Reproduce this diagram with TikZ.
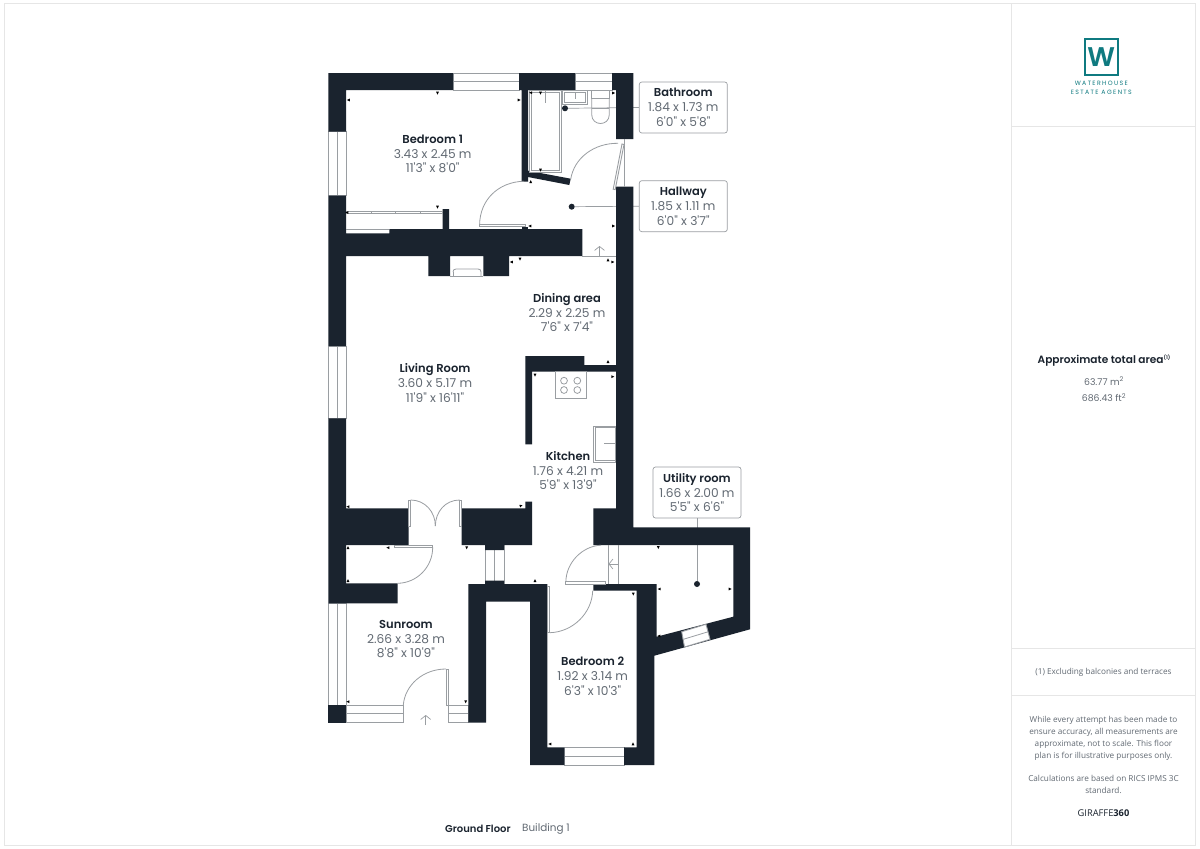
\documentclass[tikz,border=0pt]{standalone}
\usepackage{fontspec}
\usepackage{xcolor}
\usetikzlibrary{arrows.meta}
\setmainfont{Open Sans}
\newfontfamily\roomfont[BoldFont={Poppins SemiBold}]{Poppins}
\newfontfamily\logofont[LetterSpace=22]{Poppins}
\definecolor{wallc}{HTML}{1A232E}
\definecolor{greyc}{HTML}{9A9EA2}
\definecolor{textc}{HTML}{626A73}
\definecolor{linec}{HTML}{E6E6E6}
\definecolor{tealc}{HTML}{0F7A80}
\newcommand{\roomname}[1]{{\color{wallc}\bfseries\fontsize{11.5}{14.5}\selectfont #1}\\[0.6pt]}

\begin{document}
\begin{tikzpicture}[x=1pt,y=-1pt,
wall/.style={fill=wallc,draw=none},
fitting/.style={draw=greyc,line width=0.9pt,fill=white},
thinline/.style={draw=greyc,line width=0.8pt},
leader/.style={draw=greyc,line width=0.7pt},
frame/.style={draw=linec,line width=1pt},
tick/.style={fill=black},
spot/.style={circle,fill=wallc,inner sep=0pt,minimum size=6pt},
room/.style={align=center,text=textc,font=\roomfont\fontsize{12.2}{14.5}\selectfont,inner sep=0pt},
tag/.style={room,draw=greyc,fill=white,rounded corners=2.5pt,line width=0.7pt,minimum width=88pt,minimum height=51pt},
side/.style={align=center,text=textc,font=\fontsize{8.2}{11.9}\selectfont,inner sep=0pt},
entry/.style={draw=greyc,line width=0.7pt,-{Straight Barb[length=4pt,width=10pt]}}]
\useasboundingbox (0,0) rectangle (1200,849);
\fill[white] (0,0) rectangle (1200,849);

\node[room] (bed1) at (432.7,154) {\roomname{Bedroom 1}3.43 x 2.45 m\\11'3" x 8'0"};
\node[room] (living) at (435,383) {\roomname{Living Room}3.60 x 5.17 m\\11'9" x 16'11"};
\node[room] (dining) at (567,312.5) {\roomname{Dining area}2.29 x 2.25 m\\7'6" x 7'4"};
\node[room] (kitchen) at (568,470.5) {\roomname{Kitchen}1.76 x 4.21 m\\5'9" x 13'9"};
\node[room] (sun) at (406,639) {\roomname{Sunroom}2.66 x 3.28 m\\8'8" x 10'9"};
\node[room] (bed2) at (592.7,676) {\roomname{Bedroom 2}1.92 x 3.14 m\\6'3" x 10'3"};
\node[tag] (bathtag) at (683.3,107.5) {\roomname{Bathroom}1.84 x 1.73 m\\6'0" x 5'8"};
\node[tag] (halltag) at (683.3,206.2) {\roomname{Hallway}1.85 x 1.11 m\\6'0" x 3'7"};
\node[tag] (utiltag) at (697,492.5) {\roomname{Utility room}1.66 x 2.00 m\\5'5" x 6'6"};
\node[spot] (bathspot) at (565,108.3) {};
\node[spot] (hallspot) at (571.7,206.7) {};
\node[spot] (utilspot) at (697,584) {};
\draw[leader] (bathspot) -- (bathtag.west);
\draw[leader] (hallspot) -- (halltag.west);
\draw[leader] (utilspot) -- (utiltag.south);

\foreach \x/\y/\X/\Y in %
{453/73/519/90,575/73/612/90,346/705/403/722.7,448.3/705/468.3/722.7,564.3/747.3/624/765} {
   \draw[fitting] (\x,\y) rectangle (\X,\Y);
   \draw[thinline] (\x,\y/2+\Y/2) -- (\X,\y/2+\Y/2);
}
\foreach \x/\y/\X/\Y in %
{328.3/131.7/346/195.7,328.3/346/346/418.3,328.3/603.3/346/705,485/545/504/584} {
   \draw[fitting] (\x,\y) rectangle (\X,\Y);
   \draw[thinline] (\x/2+\X/2,\y) -- (\x/2+\X/2,\Y);
}

\fill[wall] (328.3,73) -- (453,73) -- (453,90) -- (346,90) -- (346,131.7) -- (328.3,131.7) -- cycle;
\fill[wall] (519,73) -- (575,73) -- (575,90) -- (528,90) -- (528,170.7) -- (570.7,178.7) -- (569.3,185) -- (528,177) -- (528,181.7) -- (521.5,181.7) -- (521.5,90) -- (519,90) -- cycle;
\fill[wall] (612,73) -- (633.3,73) -- (633.3,139) -- (616,139) -- (616,90) -- (612,90) -- cycle;
\fill[wall] (328.3,195.7) -- (346,195.7) -- (346,233.3) -- (389.3,233.3) -- (389.3,229) -- (442.7,229) -- (442.7,209) -- (449,209) -- (449,229) -- (582.3,229) -- (582.3,256) -- (509,256) -- (509,276) -- (483.4,276) -- (483.4,256) -- (450,256) -- (450,276) -- (428.3,276) -- (428.3,256) -- (346,256) -- (346,346) -- (328.3,346) -- cycle;
\fill[wall] (328.3,418.3) -- (346,418.3) -- (346,508.3) -- (408.7,508.3) -- (408.7,545) -- (346,545) -- (346,583.3) -- (397.7,583.3) -- (397.7,603.3) -- (328.3,603.3) -- cycle;
\fill[wall] (461.7,508.3) -- (525.3,508.3) -- (525.3,501.7) -- (532,501.7) -- (532,545) -- (504,545) -- (504,550) -- (485,550) -- (485,545) -- (461.7,545) -- cycle;
\fill[wall] (525.3,356) -- (584.3,356) -- (584.3,365) -- (616,365) -- (616,371.7) -- (532,371.7) -- (532,444.3) -- (525.3,444.3) -- cycle;
\fill[wall] (616,186.7) -- (633.3,186.7) -- (633.3,527.3) -- (750,527.3) -- (750,629.3) -- (654.3,655.7) -- (654.3,765) -- (624,765) -- (624,747.3) -- (636.7,747.3) -- (636.7,590.7) -- (593.3,590.7) -- (593.3,584) -- (656.7,584) -- (656.7,636.7) -- (733.3,616.7) -- (733.3,545) -- (593.3,545) -- (593.3,508.3) -- (616,508.3) -- cycle;
\fill[wall] (485,580.7) -- (504,580.7) -- (504,584) -- (547.3,584) -- (547.3,747.3) -- (564.3,747.3) -- (564.3,765) -- (530,765) -- (530,601.7) -- (486,601.7) -- (486,722.7) -- (468.3,722.7) -- (468.3,584) -- (485,584) -- cycle;
\fill[wall] (328.3,705) rectangle (346,722.7);

\draw[fitting] (681.7,631.7) -- (706,624.3) -- (710,639.3) -- (684.5,647) -- cycle;
\draw[thinline] (683.3,639.3) -- (708,631.8);
\draw[thinline] (624.8,139) -- (624.8,186.7);
\draw[thinline] (582.3,256) -- (616,256);
\draw[thinline] (608.3,545) -- (608.3,584) (618.3,545) -- (618.3,584);
\draw[thinline] (346,229.6) -- (389.3,229.6);
\fill[white,draw=greyc,line width=0.5pt] (346,211.6) rectangle (442.7,213.4);
\foreach \x in {371,395,420} {
   \draw[thinline] (\x,211.6) -- (\x,213.4);
}

\draw[thinline] (618,143.3) .. controls (594,143) and (574,158) .. (570.7,179.3);
\draw[fitting] (622,144) -- (624,144.5) -- (615.2,189.6) -- (613.2,189.2) -- cycle;
\draw[fitting] (479.3,224.5) rectangle (525,226.7);
\draw[thinline] (479.6,224.5) .. controls (480,200) and (498,182) .. (524,181.2);
\fill[wall] (521.5,226.7) rectangle (528,229);
\draw[fitting] (408.7,500) rectangle (410.7,526);
\draw[fitting] (459.7,500) rectangle (461.7,526);
\draw[thinline] (410.7,500) .. controls (425,500) and (435.5,512) .. (435.3,526);
\draw[thinline] (459.7,500) .. controls (445,500) and (435.5,512) .. (435.3,526);
\draw[fitting] (394,545) rectangle (432.7,547.3);
\draw[thinline] (432.7,547.3) .. controls (432.7,567) and (417,583) .. (397.7,583.3);
\draw[fitting] (565.7,581.7) rectangle (605,584);
\draw[thinline] (565.9,581.7) .. controls (566,563) and (582,546) .. (601,545.2);
\draw[fitting] (547.4,586.7) rectangle (549.8,632.7);
\draw[thinline] (549.8,632.7) .. controls (573,632) and (592,613) .. (592.7,590.7);
\draw[fitting] (446,669) rectangle (448.3,705);
\draw[thinline] (446,669) .. controls (423,669) and (405,685) .. (403.3,705);

\draw[fitting] (529,90.7) rectangle (561.7,172.7);
\draw[thinline] (531,92.7) rectangle (559.7,170.7);
\draw[thinline] (545,91) -- (545,103);
\draw[fitting] (562.7,90.7) rectangle (587.3,104.3);
\draw[thinline] (564.7,92.7) rectangle (585.3,102.3);
\draw[thinline] (575,92.7) -- (575,98.5);
\draw[thinline] (591.7,98.3) -- (591.7,114.5) .. controls (591.7,126.5) and (609.3,126.5) .. (609.3,114.5) -- (609.3,98.3);
\draw[thinline] (591.7,90.7) rectangle (609.3,98.3);
\draw[thinline] (591.7,108.3) -- (609.3,108.3);
\draw[thinline] (453,272) .. controls (453,270) and (454,269) .. (456,269) -- (478,269) .. controls (480,269) and (481,270) .. (481,272) -- (481,276);
\draw[thinline] (453,276) -- (453,272) (450,276) -- (483.4,276);
\draw[fitting] (555.7,371.7) rectangle (586,398.3);
\foreach \x/\y in %
{564/380.7,577.3/380.7,564/390,577.3/390} {
   \draw[thinline] (\x,\y) circle (3.4);
}
\draw[fitting] (593.3,426) rectangle (615.3,462);
\draw[thinline] (595,427.7) rectangle (615.3,460.3);
\draw[thinline] (604.3,443.7) -- (615.3,443.7);

\coordinate (hallfoot) at (599.5,256);
\coordinate (hallhead) at (599.5,246);
\coordinate (frontfoot) at (425.7,725);
\coordinate (fronthead) at (425.7,715);
\coordinate (utilfoot) at (618.3,564);
\coordinate (utilhead) at (608.5,564);
\draw[entry] (hallfoot) -- (hallhead);
\draw[entry] (frontfoot) -- (fronthead);
\draw[entry] (utilfoot) -- (utilhead);

\foreach \x/\y/\a in %
{437.5/93/-90,348.5/100/180,519/100/0,530.7/92.7/180,540.5/93/-90,540.5/170/-90,613.5/93/0,530.7/181.7/90,437.5/207/-90,347/212.5/180,530/226/180,613.5/226/0,520/259/-90,511.5/262/180,608/260/90,612.7/262/0,608/361.7/90,535/375/-90,612.7/376.7/0,348/506.7/180,521/505.7/20,348/547.7/90,388/547.7/180,466.7/547.7/-90,348/580.7/90,535/580.7/90,348/701.7/180,465.7/701.7/-90,658.3/547.5/-90,659.3/589/180,730/589/0,659/636/180,550/744/180,633/744/90,633.3/594/-90} {
   \fill[tick,shift={(\x,\y)},rotate=\a] (1.6,0) -- (-1.3,-1.4) -- (-1.3,1.4) -- cycle;
}

\draw[frame] (4,3.5) rectangle (1195.5,845);
\draw[frame] (1011.7,3.5) -- (1011.7,845);
\draw[frame] (1011.7,126) -- (1195.5,126);
\draw[frame] (1011.7,648.8) -- (1195.5,648.8);
\draw[frame] (1011.7,695.7) -- (1195.5,695.7);

\node[draw=tealc,line width=1.6pt,minimum width=33pt,minimum height=36pt,inner sep=0pt,text=tealc,font=\roomfont\bfseries\fontsize{27}{27}\selectfont] (logo) at (1101.3,57) {W};
\node[text=tealc,font=\logofont\fontsize{6.2}{8.6}\selectfont,align=center,inner sep=0pt] (logotext) at (1101.3,88) {WATERHOUSE\\ESTATE AGENTS};

\node[room,text=wallc,font=\roomfont\bfseries\fontsize{10.6}{13}\selectfont] (areahead) at (1104,361) {Approximate total area\raisebox{4pt}{\fontsize{5}{6}\selectfont (1)}};
\node[room,font=\roomfont\fontsize{9.3}{16.5}\selectfont] (areatext) at (1104,389.5) {63.77 m\textsuperscript{2}\\686.43 ft\textsuperscript{2}};
\node[side] (note) at (1103.5,672) {(1) Excluding balconies and terraces};
\node[side] (disclaim) at (1103.5,755) {While every attempt has been made to\\ensure accuracy, all measurements are\\approximate, not to scale. This floor\\plan is for illustrative purposes only.\\[11.9pt]Calculations are based on RICS IPMS 3C\\standard.};
\node[side,text=wallc,font=\fontsize{9.3}{10}\selectfont] (brand) at (1103.5,813.5) {GIRAFFE\textbf{360}};
\node[room,anchor=west,text=wallc,font=\roomfont\bfseries\fontsize{10}{12}\selectfont] (floor) at (445,828.5) {Ground Floor};
\node[room,anchor=west,font=\roomfont\fontsize{10.4}{12}\selectfont] (building) at (522,828.5) {Building 1};
\end{tikzpicture}
\end{document}
